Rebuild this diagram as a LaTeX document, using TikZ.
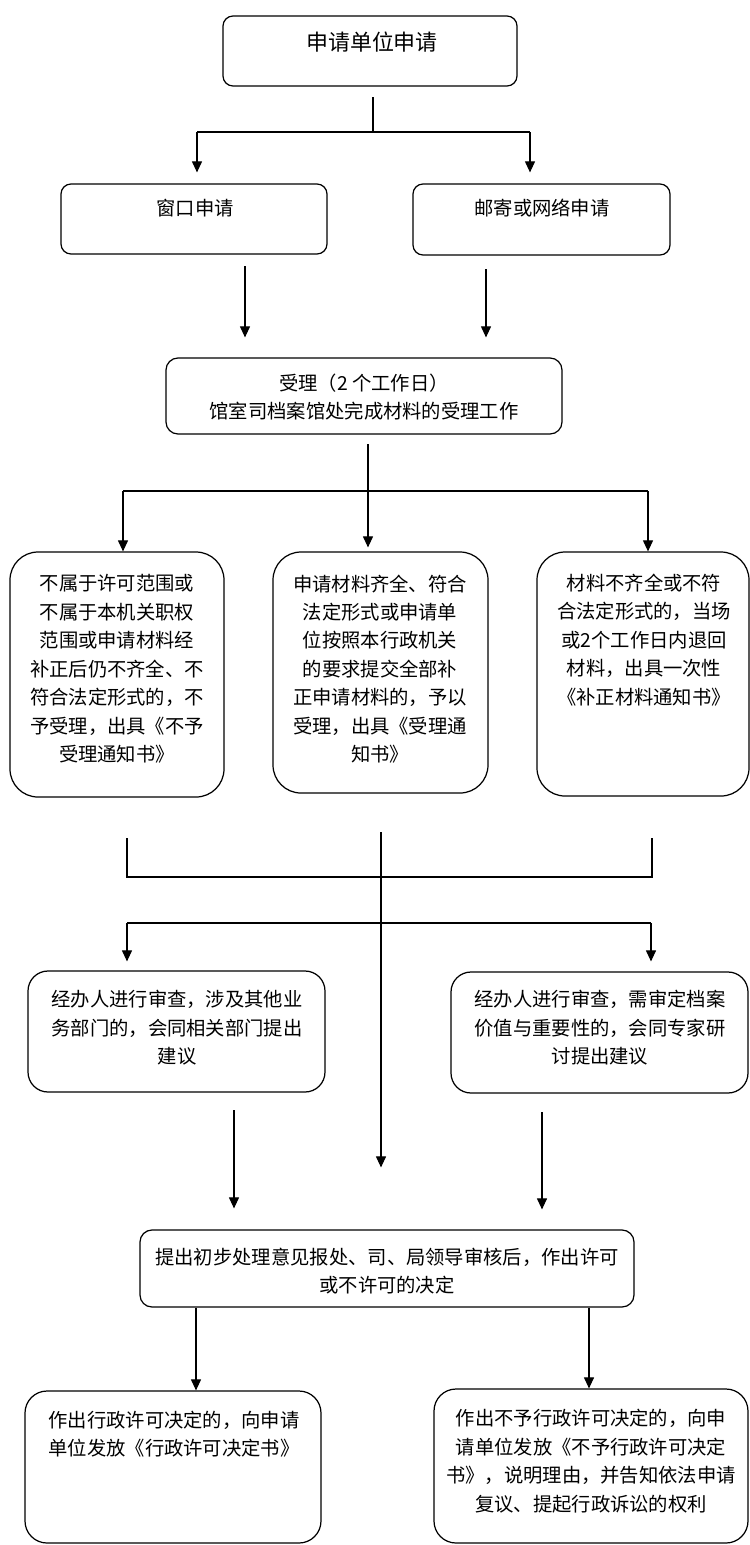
\documentclass[tikz,border=0pt]{standalone}
\usepackage{fontspec}
\newfontfamily\cjk{Noto Sans CJK SC}
\usetikzlibrary{arrows.meta,fit}

\begin{document}
\begin{tikzpicture}[x=0.02cm,y=-0.02cm,
  box/.style={draw,line width=0.7pt,rounded corners=#1,inner sep=0pt},
  txt/.style={align=center,inner sep=0pt,font=\cjk\fontsize{11pt}{16.2pt}\selectfont},
  line/.style={line width=0.6pt},
  arr/.style={line width=0.6pt,-{Triangle[length=0.22cm,width=0.2cm]},shorten >=#1},
  arr/.default=0pt]
\useasboundingbox (0,0) rectangle (750,1545);
% boxes
\node[box=0.2cm,fit={(223,16) (517,86)}] (apply) {};
\node[txt,font=\cjk\fontsize{12.5pt}{15pt}\selectfont] (applyT) at (372,42) {申请单位申请};
\node[box=0.2cm,fit={(61,184) (327,254)}] (win) {};
\node[txt] (winT) at (195,208) {窗口申请};
\node[box=0.2cm,fit={(413,184) (670,255)}] (post) {};
\node[txt] (postT) at (542,208) {邮寄或网络申请};
\node[box=0.24cm,fit={(166,358) (562,434)}] (accept) {};
\node[txt] (acceptT) at (364,397) {受理（2 个工作日）\\馆室司档案馆处完成材料的受理工作};
\node[box=0.56cm,fit={(10,552) (224,797)}] (reject) {};
\node[txt] (rejectT) at (117,669) {不属于许可范围或\\不属于本机关职权\\范围或申请材料经\\补正后仍不齐全、不\\符合法定形式的，不\\予受理，出具《不予\\受理通知书》};
\node[box=0.56cm,fit={(273,552) (488,793)}] (ok) {};
\node[txt] (okT) at (380,669) {申请材料齐全、符合\\法定形式或申请单\\位按照本行政机关\\的要求提交全部补\\正申请材料的，予以\\受理，出具《受理通\\知书》};
\node[box=0.56cm,fit={(537,552) (749,796)}] (supp) {};
\node[txt] (suppT) at (644,640) {材料不齐全或不符\\合法定形式的，当场\\或2个工作日内退回\\材料，出具一次性\\《补正材料通知书》};
\node[box=0.4cm,fit={(28,971) (325,1092)}] (revA) {};
\node[txt] (revAT) at (177,1028) {经办人进行审查，涉及其他业\\务部门的，会同相关部门提出\\建议};
\node[box=0.4cm,fit={(451,972) (748,1093)}] (revB) {};
\node[txt] (revBT) at (600,1028) {经办人进行审查，需审定档案\\价值与重要性的，会同专家研\\讨提出建议};
\node[box=0.24cm,fit={(140,1230) (634,1307)}] (decide) {};
\node[txt] (decideT) at (387,1271) {提出初步处理意见报处、司、局领导审核后，作出许可\\或不许可的决定};
\node[box=0.44cm,fit={(25,1391) (321,1543)}] (grant) {};
\node[txt] (grantT) at (174,1434) {作出行政许可决定的，向申请\\单位发放《行政许可决定书》};
\node[box=0.44cm,fit={(434,1389) (748,1543)}] (deny) {};
\node[txt] (denyT) at (591,1461) {作出不予行政许可决定的，向申\\请单位发放《不予行政许可决定\\书》，说明理由，并告知依法申请\\复议、提起行政诉讼的权利};
% connectors
\coordinate (a0) at (373,97);
\coordinate (aL) at (197,132);
\coordinate (aR) at (530,132);
\draw[line] (a0) -- (a0 |- aL);
\draw[line] (aL) -- (aR);
\draw[arr=0.22cm] (aL) -- (aL |- win.north);
\draw[arr=0.22cm] (aR) -- (aR |- post.north);
\coordinate (w0) at (245,266);
\coordinate (p0) at (486,269);
\draw[arr=0.4cm] (w0) -- (w0 |- accept.north);
\draw[arr=0.4cm] (p0) -- (p0 |- accept.north);
\coordinate (s0) at (368,444);
\coordinate (sL) at (123,491);
\coordinate (sR) at (648,491);
\draw[arr=0.08cm] (s0) -- (s0 |- ok.north);
\draw[line] (sL) -- (sR);
\draw[arr] (sL) -- (sL |- reject.north);
\draw[arr] (sR) -- (sR |- supp.north);
\coordinate (r0) at (127,838);
\coordinate (q0) at (652,838);
\draw[line] (r0) -- ++(0,39) -| (q0);
\coordinate (m0) at (381,832);
\draw[arr=1.24cm] (m0) -- (m0 |- decide.north);
\coordinate (fL) at (127,923);
\coordinate (fR) at (651,923);
\draw[line] (fL) -- (fR);
\draw[arr=0.18cm] (fL) -- (fL |- revA.north);
\draw[arr=0.2cm] (fR) -- (fR |- revB.north);
\coordinate (j0) at (234,1110);
\coordinate (k0) at (542,1112);
\draw[arr=0.42cm] (j0) -- (j0 |- decide.north);
\draw[arr=0.4cm] (k0) -- (k0 |- decide.north);
\coordinate (d1) at (196,0);
\coordinate (d2) at (589,0);
\draw[arr] (d1 |- decide.south) -- (d1 |- grant.north);
\draw[arr] (d2 |- decide.south) -- (d2 |- deny.north);
\end{tikzpicture}
\end{document}
